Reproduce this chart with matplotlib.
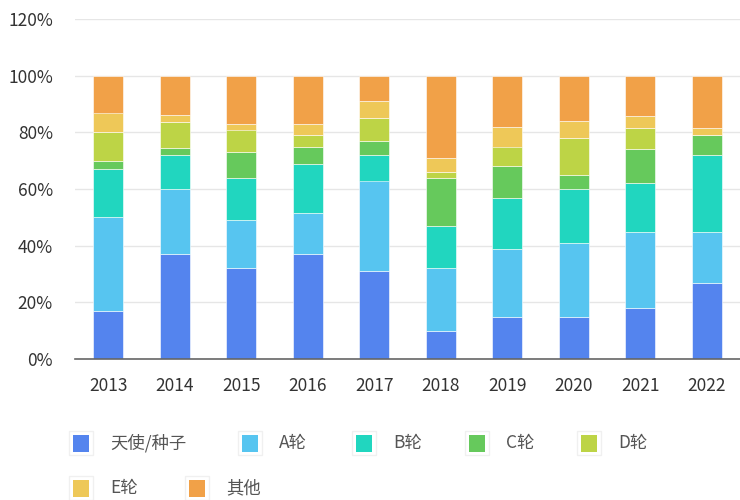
import matplotlib
matplotlib.use('Agg')
import matplotlib.pyplot as plt
from matplotlib.patches import Rectangle
import numpy as np

plt.rcParams['font.family'] = ['Noto Sans CJK SC', 'DejaVu Sans']

years = ['2013', '2014', '2015', '2016', '2017', '2018', '2019', '2020', '2021', '2022']
series = ['天使/种子', 'A轮', 'B轮', 'C轮', 'D轮', 'E轮', '其他']
angel = [17, 37, 32, 37, 31, 10, 15, 15, 18, 27]
round_a = [33, 23, 17, 14.7, 32, 22, 24, 26, 27, 18]
round_b = [17, 12, 15, 17.2, 9, 15, 18, 19, 17, 27]
round_c = [3, 2.5, 9, 6, 5, 17, 11, 5, 12, 7]
round_d = [10, 9, 8, 4, 8, 2, 7, 13, 7.7, 0]
round_e = [7, 2.5, 2, 4.1, 6, 5, 7, 6, 4, 2.7]
other = [13, 14, 17, 17, 9, 29, 18, 16, 14.3, 18.3]
colors = ['#5484EE', '#57C5F0', '#21D6BF', '#66C95C', '#BDD446', '#EEC858', '#F1A148']

values = [angel, round_a, round_b, round_c, round_d, round_e, other]

fig = plt.figure(figsize=(7.4, 5.0), dpi=100)
ax = fig.add_axes([75 / 740, 141 / 500, 665 / 740, 340 / 500])

x = np.arange(len(years))
bottom = np.zeros(len(years))
for name, vals, c in zip(series, values, colors):
    vals = np.array(vals, dtype=float)
    ax.bar(x, vals, bottom=bottom, width=0.45, color=c, edgecolor='white',
           linewidth=0.4, zorder=3)
    bottom += vals

ax.set_xlim(-0.5, len(years) - 0.5)
ax.set_ylim(0, 120)
ax.set_yticks(range(0, 121, 20))
ax.set_yticklabels([f'{v}%' for v in range(0, 121, 20)])
ax.set_xticks(x)
ax.set_xticklabels(years)
ax.tick_params(axis='both', length=0, labelsize=12.5, colors='#333333')
ax.tick_params(axis='x', pad=13)
ax.tick_params(axis='y', pad=16)
ax.grid(axis='y', color='#e6e6e6', linewidth=1, zorder=0)
for s in ['top', 'right', 'left']:
    ax.spines[s].set_visible(False)
ax.spines['bottom'].set_color('#666666')
ax.spines['bottom'].set_linewidth(1.2)
ax.spines['bottom'].set_zorder(4)

# legend laid out like the original (flow layout, two rows)
legend_pos = [(81, 443), (250, 443), (364, 443), (477, 443), (589, 443),
              (81, 488), (197, 488)]
W, H = 740, 500
for (px, py), name, c in zip(legend_pos, series, colors):
    fig.patches.append(Rectangle(((px - 12) / W, 1 - (py + 12) / H), 24 / W, 24 / H,
                                 transform=fig.transFigure, facecolor='white',
                                 edgecolor='#f0f0f0', linewidth=1))
    fig.patches.append(Rectangle(((px - 8) / W, 1 - (py + 8.5) / H), 16 / W, 17 / H,
                                 transform=fig.transFigure, facecolor=c,
                                 edgecolor='none'))
    fig.text((px + 29) / W, 1 - py / H, name, fontsize=12.5, color='#555555',
             va='center', ha='left')

plt.savefig('out.png', dpi=100)
